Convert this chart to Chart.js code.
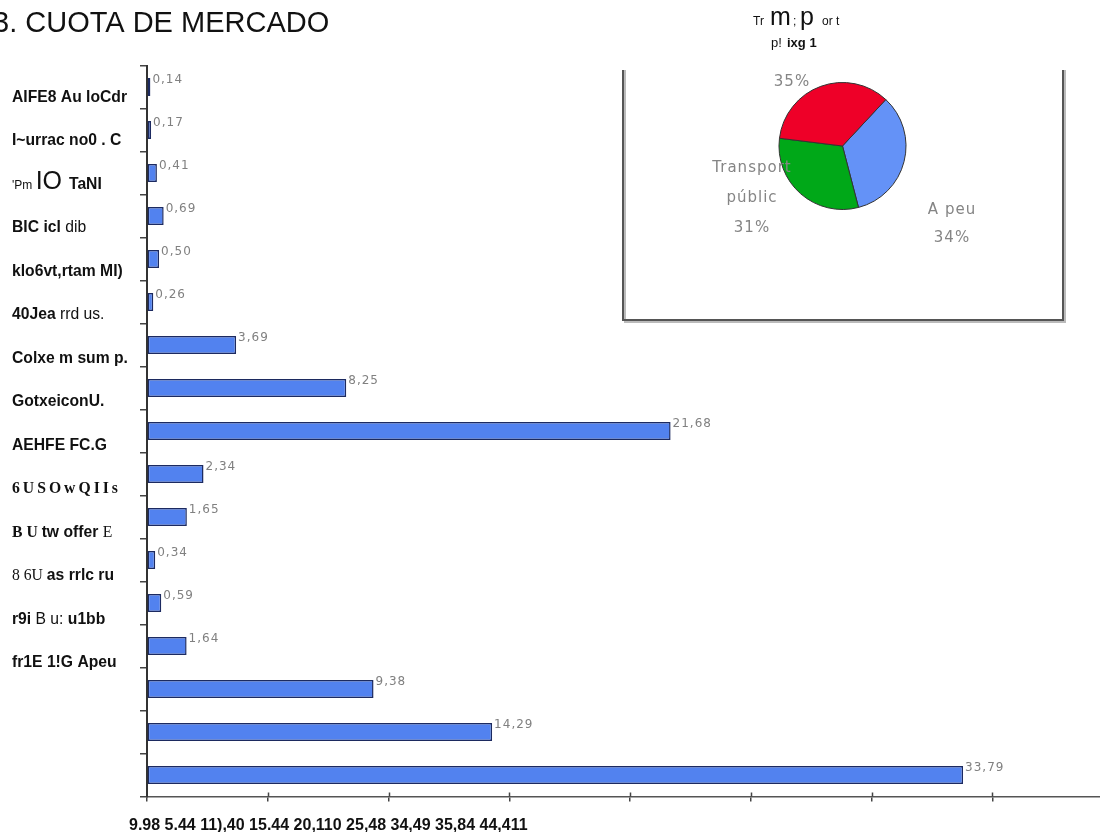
<!DOCTYPE html>
<html>
<head>
<meta charset="utf-8">
<script src="https://cdn.jsdelivr.net/npm/chart.js@4.4.0/dist/chart.umd.min.js"></script>
<style>
  body { margin: 0; background: #fff; }
  #wrap { position: relative; width: 1100px; height: 832px; }
  #bars { position: absolute; left: 0; top: 0; }
  #pie { position: absolute; left: 622px; top: 0; }
</style>
</head>
<body>
<div id="wrap">
  <canvas id="bars" width="1100" height="832"></canvas>
  <canvas id="pie" width="444" height="324"></canvas>
</div>
<script>
// quota per operator (bars, top to bottom)
const categories = ['AIFE8 Au loCdr', 'I~urrac no0 . C', "'Pm IO TaNI", 'BIC icl dib', 'klo6vt,rtam MI)',
  '40Jea rrd us.', 'Colxe m sum p.', 'GotxeiconU.', 'AEHFE FC.G', '6USOwQIIs', 'B U tw offer E',
  '8 6U as rrlc ru', 'r9i B u: u1bb', 'fr1E 1!G Apeu', '', '', ''];
const values = [0.14, 0.17, 0.41, 0.69, 0.50, 0.26, 3.69, 8.25, 21.68, 2.34, 1.65, 0.34, 0.59, 1.64, 9.38, 14.29, 33.79];
// text under the value axis
const xTickText = ['9.98', '5.44', '11),40', '15.44', '20,110', '25,48', '34,49', '35,84', '44,411'];

// transport split (pie)
const pieNames = ['A peu', 'Transport públic', ''];
const pieValues = [34, 31, 35];

// font per word of each label (b bold, n normal, sm small, lg large, sb serif bold, sr serif)
const wordFonts = [
  ['b', 'b', 'b'], ['b', 'b', 'b', 'b'], ['sm', 'lg', 'b'], ['b', 'b', 'n'], ['b', 'b'],
  ['b', 'n', 'n'], ['b', 'b', 'b', 'b'], ['b'], ['b', 'b'], ['sb'], ['sb', 'sb', 'b', 'b', 'sr'],
  ['sr', 'sr', 'b', 'b', 'b'], ['b', 'n', 'n', 'b'], ['b', 'b', 'b']
];
const fonts = {
  b: 'bold 15.7px "Liberation Sans"',
  n: '15.7px "Liberation Sans"',
  sm: '12px "Liberation Sans"',
  lg: '25px "Liberation Sans"',
  sb: 'bold 15.7px "Liberation Serif"',
  sr: '15.7px "Liberation Serif"'
};

const decimal = v => v.toFixed(2).replace('.', ',');

const barText = {
  id: 'barText',
  afterDatasetsDraw(chart) {
    const ctx = chart.ctx;
    const meta = chart.getDatasetMeta(0);
    ctx.save();
    // value beside each bar
    ctx.font = '12px "DejaVu Sans"';
    ctx.letterSpacing = '1px';
    ctx.fillStyle = '#808080';
    ctx.textBaseline = 'middle';
    ctx.filter = 'blur(0.4px)';
    meta.data.forEach((bar, i) => {
      ctx.fillText(decimal(values[i]), bar.x + 2, bar.y - 7);
    });
    ctx.restore();
  },
  afterDraw(chart) {
    const ctx = chart.ctx;
    const y = chart.scales.y;
    const x = chart.scales.x;
    ctx.save();

    // tick marks cross the value axis
    ctx.strokeStyle = '#444';
    ctx.lineWidth = 1.5;
    for (let v = 5; v <= 35; v += 5) {
      const px = Math.round(x.getPixelForValue(v)) + 0.5;
      ctx.beginPath();
      ctx.moveTo(px, x.top - 4);
      ctx.lineTo(px, x.top);
      ctx.stroke();
    }

    ctx.fillStyle = '#111';
    ctx.textBaseline = 'alphabetic';
    ctx.font = '29px "Liberation Sans"';
    ctx.fillText('3. CUOTA DE MERCADO', -7, 32);

    // category names, word by word
    categories.forEach((name, i) => {
      if (!name) return;
      let px = 12;
      const base = y.getPixelForValue(i) + 15 + i * 0.46;
      name.split(' ').forEach((w, k) => {
        const key = wordFonts[i][k] || 'b';
        ctx.font = fonts[key];
        ctx.letterSpacing = key === 'sb' && i === 9 ? '3px' : '0px';
        ctx.fillText(w, px, base);
        px += ctx.measureText(w).width + ctx.measureText(' ').width;
      });
    });

    ctx.letterSpacing = '0px';
    ctx.font = 'bold 16px "Liberation Sans"';
    ctx.fillText(xTickText.join(' '), 129, 830);
    ctx.restore();
  }
};

new Chart(document.getElementById('bars'), {
  type: 'bar',
  data: {
    labels: categories,
    datasets: [{
      data: values,
      backgroundColor: '#5282ef',
      borderColor: '#1c2a60',
      borderWidth: 1.5,
      borderSkipped: false,
      barPercentage: 0.42,
      categoryPercentage: 1
    }]
  },
  options: {
    indexAxis: 'y',
    responsive: false,
    animation: false,
    devicePixelRatio: 1,
    layout: { padding: { left: 140, top: 65.5, bottom: 30.5, right: 0 } },
    plugins: { legend: { display: false }, tooltip: { enabled: false } },
    scales: {
      x: {
        min: 0,
        max: 39.46,
        ticks: { display: false, stepSize: 5 },
        grid: {
          drawOnChartArea: false,
          tickLength: 5,
          lineWidth: 1.5,
          color: c => (c.tick && c.tick.value % 5 === 0 ? '#444' : 'rgba(0,0,0,0)')
        },
        border: { color: '#555', width: 1.5 }
      },
      y: {
        ticks: { display: false },
        grid: { drawOnChartArea: false, tickLength: 7, lineWidth: 1.5, color: '#444' },
        border: { color: '#333', width: 2 }
      }
    }
  },
  plugins: [barText]
});

const pieText = {
  id: 'pieText',
  beforeDraw(chart) {
    const ctx = chart.ctx;
    ctx.save();
    ctx.translate(-622, 0);
    // inset frame
    ctx.strokeStyle = '#bbb';
    ctx.lineWidth = 2;
    ctx.beginPath();
    ctx.moveTo(625, 70); ctx.lineTo(625, 322); ctx.lineTo(1065, 322); ctx.lineTo(1065, 70);
    ctx.stroke();
    ctx.strokeStyle = '#555';
    ctx.beginPath();
    ctx.moveTo(623, 70); ctx.lineTo(623, 320); ctx.lineTo(1063, 320); ctx.lineTo(1063, 70);
    ctx.stroke();

    // heading above the frame
    ctx.fillStyle = '#111';
    ctx.font = '12px "Liberation Sans"';
    ctx.fillText('Tr', 753, 25);
    ctx.font = '25px "Liberation Sans"';
    ctx.fillText('m', 770, 25);
    ctx.font = '12px "Liberation Sans"';
    ctx.fillText(';', 793, 25);
    ctx.font = '25px "Liberation Sans"';
    ctx.fillText('p', 800, 25);
    ctx.font = '12px "Liberation Sans"';
    ctx.fillText('or t', 822, 25);
    ctx.font = '13px "Liberation Sans"';
    ctx.fillText('p!', 771, 47);
    ctx.font = 'bold 13px "Liberation Sans"';
    ctx.fillText('ixg 1', 787, 47);
    ctx.restore();
  },
  afterDraw(chart) {
    const ctx = chart.ctx;
    ctx.save();
    ctx.translate(-622, 0);
    ctx.fillStyle = '#858585';
    ctx.font = '15px "DejaVu Sans"';
    ctx.letterSpacing = '1px';
    ctx.textAlign = 'center';
    ctx.textBaseline = 'middle';
    ctx.filter = 'blur(0.5px)';
    ctx.fillText(pieValues[2] + '%', 792, 82);
    ctx.fillText(pieNames[1].split(' ')[0], 752, 168);
    ctx.fillText(pieNames[1].split(' ')[1], 752, 198);
    ctx.fillText(pieValues[1] + '%', 752, 228);
    ctx.fillText(pieNames[0], 952, 210);
    ctx.fillText(pieValues[0] + '%', 952, 238);
    ctx.restore();
  }
};

new Chart(document.getElementById('pie'), {
  type: 'pie',
  data: {
    labels: pieNames,
    datasets: [{
      data: pieValues,
      backgroundColor: ['#6492f7', '#00a818', '#ee0028'],
      borderColor: '#333',
      borderWidth: 1
    }]
  },
  options: {
    responsive: false,
    animation: false,
    devicePixelRatio: 1,
    rotation: 43,
    layout: { padding: { left: 156.5, right: 159.5, top: 82, bottom: 114 } },
    plugins: { legend: { display: false }, tooltip: { enabled: false } }
  },
  plugins: [pieText]
});
</script>
</body>
</html>
